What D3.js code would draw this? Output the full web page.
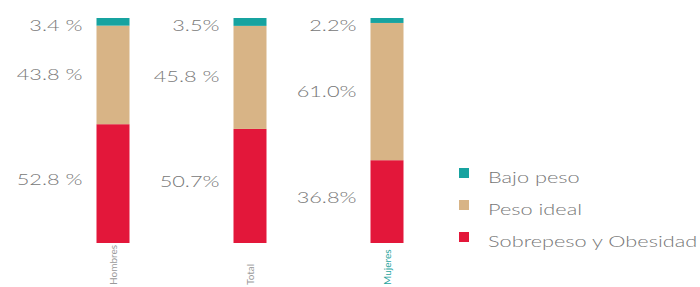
<!DOCTYPE html>
<html><head><meta charset="utf-8">
<script src="https://cdn.jsdelivr.net/npm/d3@7"></script>
<style>html,body{margin:0;padding:0;background:#fff;overflow:hidden}</style>
</head><body>
<svg id="c" width="700" height="287"></svg>
<script>
const categories = ["Hombres", "Total", "Mujeres"];
const series = ["Bajo peso", "Peso ideal", "Sobrepeso y Obesidad"];
const bajoPeso = [3.4, 3.5, 2.2];
const pesoIdeal = [43.8, 45.8, 61.0];
const sobrepeso = [52.8, 50.7, 36.8];
const labelsBajo = ["3.4 %", "3.5%", "2.2%"];
const labelsIdeal = ["43.8 %", "45.8 %", "61.0%"];
const labelsSobre = ["52.8 %", "50.7%", "36.8%"];
const colors = ["#17a3a0", "#d8b486", "#e3173a"];

const svg = d3.select("#c");
const x = d3.scalePoint().domain(categories).range([113, 387]);
const barW = 33;
const y = d3.scaleLinear().domain([0, 100]).range([243, 18]);
const SX = 1.45; // horizontal stretch of the text

const rows = categories.map((c, i) => ({cat: c, "Bajo peso": bajoPeso[i], "Peso ideal": pesoIdeal[i], "Sobrepeso y Obesidad": sobrepeso[i]}));
const stacked = d3.stack().keys(series.slice().reverse())(rows);
const labelSets = {"Bajo peso": labelsBajo, "Peso ideal": labelsIdeal, "Sobrepeso y Obesidad": labelsSobre};

stacked.forEach(layer => {
  const ci = series.indexOf(layer.key);
  svg.append("g").selectAll("rect").data(layer).join("rect")
    .attr("x", d => x(d.data.cat) - barW / 2)
    .attr("width", barW)
    .attr("y", d => y(d[1]))
    .attr("height", d => y(d[0]) - y(d[1]))
    .attr("fill", colors[ci]);
  svg.append("g").selectAll("g").data(layer).join("g")
    .attr("transform", d => {
      let ty;
      if (layer.key === "Bajo peso") ty = y(d[1]) + 13;
      else if (layer.key === "Peso ideal") ty = (y(d[0]) + y(d[1])) / 2 + 5;
      else ty = (y(d[0]) + y(d[1])) / 2 + 1;
      return `translate(${x(d.data.cat) - barW / 2 - 14},${ty}) scale(${SX},1)`;
    })
    .append("text")
    .attr("text-anchor", "end")
    .attr("font-family", "Lato, sans-serif")
    .attr("font-weight", 300)
    .attr("font-size", 15)
    .attr("fill", "#777")
    .text((d, i) => labelSets[layer.key][i]);
});

// x-axis labels (rotated)
svg.append("g").selectAll("text").data(categories).join("text")
  .attr("transform", d => `translate(${x(d) + 4},${285}) rotate(-90)`)
  .attr("font-family", "Lato, sans-serif")
  .attr("font-size", 10)
  .attr("fill", (d, i) => i === 2 ? "#2aa6a0" : "#9a9a9a")
  .text(d => d);

// legend
const lg = svg.append("g").attr("transform", "translate(459,168)");
series.forEach((s, i) => {
  const g = lg.append("g").attr("transform", `translate(0,${i * 32})`);
  g.append("rect").attr("width", 10).attr("height", 10).attr("fill", colors[i]);
  g.append("g").attr("transform", `translate(29,15) scale(${SX},1)`)
    .append("text")
    .attr("font-family", "Lato, sans-serif").attr("font-weight", 300)
    .attr("font-size", 15).attr("fill", "#777").text(s);
});
</script>
</body></html>
